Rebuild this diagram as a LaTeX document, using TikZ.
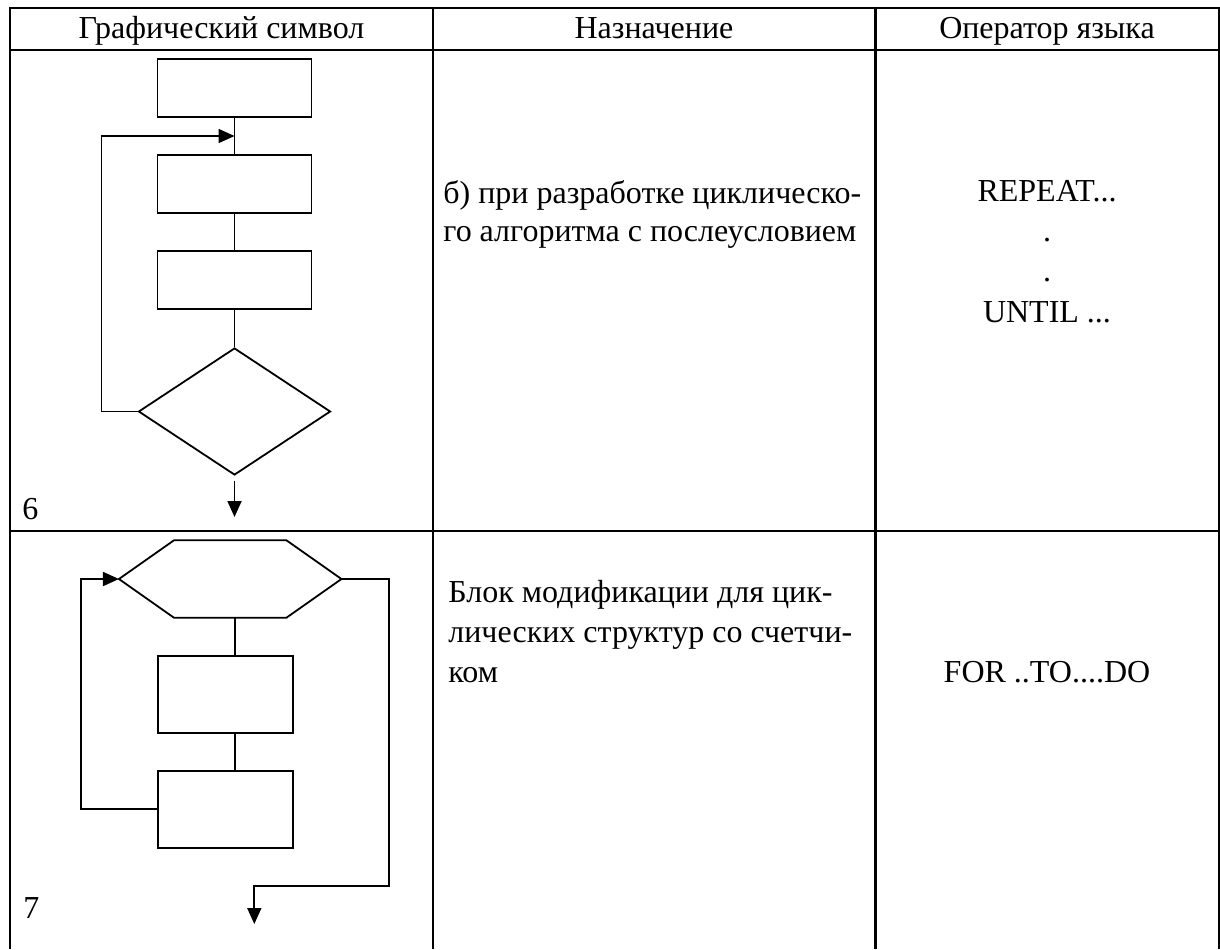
\documentclass[tikz,border=0pt]{standalone}
\usepackage{fontspec}
\setmainfont{Liberation Serif}
\usetikzlibrary{arrows.meta,shapes.geometric}
\begin{document}
\begin{tikzpicture}[x=0.5pt,y=-0.5pt,
  tab/.style={line width=1.3pt},
  fl/.style={line width=0.9pt},
  arr/.style={fl,-{Triangle[length=8pt,width=7pt]}},
  blk/.style={draw,fl,rectangle,inner sep=0pt,minimum width=77pt,minimum height=29pt},
  blkb/.style={draw,fl,rectangle,inner sep=0pt,minimum width=67.5pt,minimum height=38.5pt},
  txt/.style={inner sep=0pt,font=\fontsize{16}{19}\selectfont},
]
\useasboundingbox (0,0) rectangle (1220,949);
% table grid
\draw[tab] (10,949) -- (10,8) -- (1219,8) -- (1219,949);
\draw[tab] (10,50) -- (1219,50);
\draw[tab] (10,531) -- (1219,531);
\draw[tab] (433,8) -- (433,949);
\draw[tab] (875.5,8) -- (875.5,949);
% header
\node[txt,anchor=base] (h1) at (221.5,38) {Графический символ};
\node[txt,anchor=base] (h2) at (654,38) {Назначение};
\node[txt,anchor=base] (h3) at (1047,38) {Оператор языка};
% row 1 text
\node[txt,anchor=base west] (r1a) at (443,203.5) {б) при разработке циклическо-};
\node[txt,anchor=base west] (r1b) at (443,241.8) {го алгоритма с послеусловием};
\node[txt,anchor=base] (o1a) at (1047,201.5) {REPEAT...};
\node[txt,anchor=base] (o1b) at (1047,241) {.};
\node[txt,anchor=base] (o1c) at (1047,281) {.};
\node[txt,anchor=base] (o1d) at (1047,322) {UNTIL ...};
\node[txt,anchor=base west] (n6) at (22,519) {6};
% row 2 text
\node[txt,anchor=base west] (r2a) at (448,602) {Блок модификации для цик-};
\node[txt,anchor=base west] (r2b) at (448,642) {лических структур со счетчи-};
\node[txt,anchor=base west] (r2c) at (448,682) {ком};
\node[txt,anchor=base] (o2a) at (1047,682) {FOR ..TO....DO};
\node[txt,anchor=base west] (n7) at (23,918) {7};

% flowchart 1
\node[blk] (b1) at (234.5,88) {};
\node[blk] (b2) at (234.5,184) {};
\node[blk] (b3) at (234.5,280) {};
\node[draw,fl,diamond,inner sep=0pt,minimum width=96pt,minimum height=63.5pt] (d1) at (234.5,411.5) {};
\coordinate (j1) at (234.5,136);
\coordinate (l1) at (101.5,411.5);
\coordinate (e1) at (234.5,517);
\draw[fl] (b1.south) -- (b2.north);
\draw[fl] (b2.south) -- (b3.north);
\draw[fl] (b3.south) -- (d1.north);
\draw[arr] (d1.west) -- (l1) |- (j1);
\draw[arr,shorten <=2.5pt] (d1.south) -- (e1);

% flowchart 2
\node[inner sep=0pt,minimum width=110.85pt,minimum height=38.3pt] (hx) at (230.2,579) {};
\draw[fl] (hx.west) -- ([xshift=27.5pt]hx.north west) -- ([xshift=-27.5pt]hx.north east)
  -- (hx.east) -- ([xshift=-27.5pt]hx.south east) -- ([xshift=27.5pt]hx.south west) -- cycle;
\node[blkb] (b5) at (225.2,694.2) {};
\node[blkb] (b6) at (225.2,809.3) {};
\coordinate (v) at (235,0);
\draw[fl] (hx.south -| v) -- (b5.north -| v);
\draw[fl] (b5.south -| v) -- (b6.north -| v);
\coordinate (l2) at (81,809.3);
\draw[arr] (b6.west) -- (l2) |- (hx.west);
\coordinate (r2a) at (389,886);
\coordinate (r2b) at (254.3,886);
\coordinate (e2) at (254.3,924);
\draw[arr] (hx.east) -| (r2a) -- (r2b) -- (e2);
\end{tikzpicture}
\end{document}
